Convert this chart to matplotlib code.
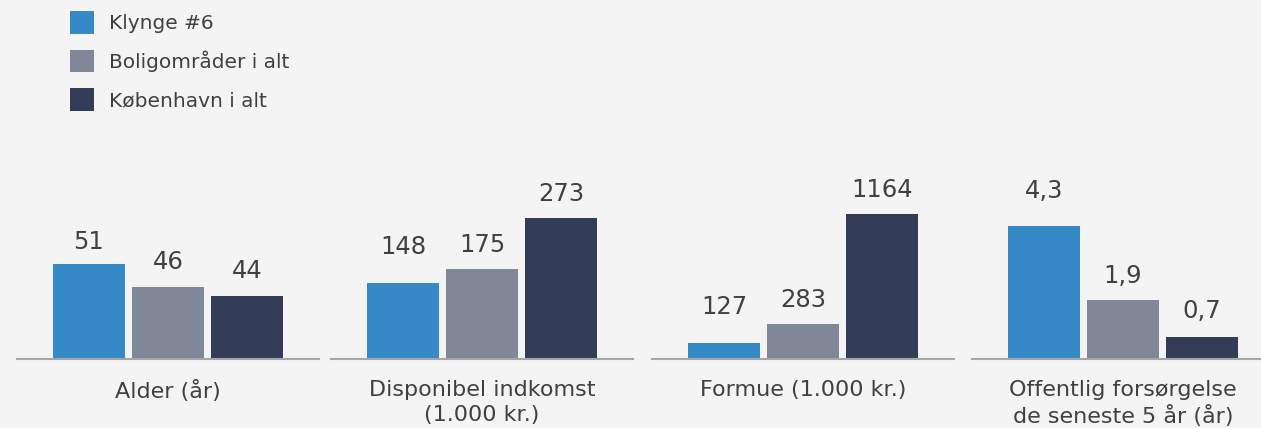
import matplotlib.pyplot as plt
from matplotlib.patches import Patch

# data
series = ['Klynge #6', 'Boligområder i alt', 'København i alt']
categories = ['Alder (år)', 'Disponibel indkomst\n(1.000 kr.)',
              'Formue (1.000 kr.)', 'Offentlig forsørgelse\nde seneste 5 år (år)']
values = [
    [51, 46, 44],
    [148, 175, 273],
    [127, 283, 1164],
    [4.3, 1.9, 0.7],
]
# value range shown in each panel
ylims = [(30.2, 71.6), (0, 366), (0, 1518), (0, 6.12)]

# gap (px) between bar top and label baseline
label_gap = [
    [15, 18, 18],
    [29, 17, 17],
    [29, 17, 17],
    [28, 17, 19],
]

colors = ['#3589c6', '#808797', '#333c57']
text_color = '#404040'
bg = '#f4f4f4'

plt.rcParams['font.family'] = ['DejaVu Sans']

W, H = 1261, 428
fig = plt.figure(figsize=(W / 100, H / 100), dpi=100, facecolor=bg)

lefts = [17, 331, 652, 972]
ax_w, ax_h, ax_b = 302, 189, 69

for i, (cat, vals) in enumerate(zip(categories, values)):
    ax = fig.add_axes([lefts[i] / W, ax_b / H, ax_w / W, ax_h / H])
    ax.set_facecolor(bg)
    x = range(len(vals))
    ax.bar(x, vals, width=0.91, color=colors, zorder=1)
    ax.set_xlim(-0.91, 2.91)
    ax.set_ylim(*ylims[i])
    for s in ['top', 'left', 'right']:
        ax.spines[s].set_visible(False)
    ax.spines['bottom'].set_color('#a6a6a6')
    ax.spines['bottom'].set_linewidth(1.5)
    ax.spines['bottom'].set_zorder(3)
    ax.set_xticks([])
    ax.set_yticks([])

    for xi, v in zip(x, vals):
        txt = str(v).replace('.', ',')
        ax.annotate(txt, (xi, v), xytext=(0, label_gap[i][xi] * 0.72),
                    textcoords='offset points', ha='center', va='baseline',
                    fontsize=17.5, color=text_color)

    ax.annotate(cat, xy=(0.5, 0), xycoords='axes fraction', xytext=(0, -15),
                textcoords='offset points', ha='center', va='top',
                fontsize=16, color=text_color, linespacing=1.3,
                annotation_clip=False)

handles = [Patch(facecolor=c, edgecolor='none') for c in colors]
fig.legend(handles, series, loc='upper left', bbox_to_anchor=(70 / W, 1 - 11 / H),
           frameon=False, fontsize=14.5, labelcolor=text_color,
           handlelength=1.2, handleheight=1.35, handletextpad=0.72,
           labelspacing=0.8, borderaxespad=0, borderpad=0)

fig.savefig('out.png', dpi=100, facecolor=bg)
